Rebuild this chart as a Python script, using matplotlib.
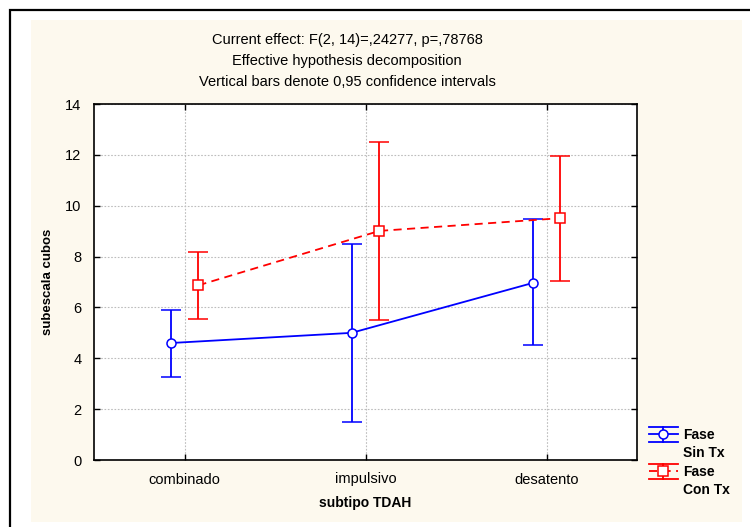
"""Means with 0,95 CI for 'subescala cubos' by subtipo TDAH and fase (Statistica-style plot)."""
import matplotlib
matplotlib.use("Agg")
import matplotlib.pyplot as plt
import numpy as np
from matplotlib.lines import Line2D
from matplotlib.patches import Rectangle

plt.rcParams["font.family"] = ["Liberation Sans", "DejaVu Sans"]

categories = ["combinado", "impulsivo", "desatento"]

sin_mean = [4.60, 5.00, 6.96]
sin_low = [3.26, 1.49, 4.52]
sin_high = [5.90, 8.49, 9.48]

con_mean = [6.87, 9.01, 9.51]
con_low = [5.54, 5.50, 7.04]
con_high = [8.18, 12.52, 11.95]

legend_labels = [("Fase", "Sin Tx"), ("Fase", "Con Tx")]

title_lines = ["Current effect: F(2, 14)=,24277, p=,78768",
               "Effective hypothesis decomposition",
               "Vertical bars denote 0,95 confidence intervals"]

W, H = 750, 527
BLUE, RED = "#0000ff", "#ff0000"
fig = plt.figure(figsize=(W / 100, H / 100), dpi=100, facecolor="white")


def fx(px):
    return px / W


def fy(py):
    return 1 - py / H


# cream panel + black outer frame, behind the axes
fig.patches.append(Rectangle((fx(31), fy(522)), fx(742 - 31), (522 - 20) / H,
                             transform=fig.transFigure, facecolor="#fdf9ee",
                             edgecolor="none", zorder=-2))
fig.patches.append(Rectangle((fx(10), -0.05), 1.2, fy(10) + 0.05,
                             transform=fig.transFigure, facecolor="none",
                             edgecolor="black", lw=1.6, zorder=-1))

ax = fig.add_axes([fx(94), fy(460), fx(637 - 94), (460 - 104) / H])
ax.set_facecolor("white")

x = np.arange(len(categories))
off = 0.077
DASH = (0, (4.5, 3))


def draw(xpos, mean, low, high, color, marker, ls):
    mean = np.asarray(mean)
    yerr = [mean - np.asarray(low), np.asarray(high) - mean]
    return ax.errorbar(xpos, mean, yerr=yerr, color=color, ecolor=color, lw=1.3,
                       elinewidth=1.3, capsize=7, capthick=1.3, ls=ls,
                       marker=marker, markersize=6.5, mfc="white", mec=color,
                       mew=1.1, zorder=3)


draw(x - off, sin_mean, sin_low, sin_high, BLUE, "o", "-")
draw(x + off, con_mean, con_low, con_high, RED, "s", DASH)

ax.set_xlim(-0.5, len(categories) - 0.5)
ax.set_ylim(0, 14)
ax.set_yticks(np.arange(0, 15, 2))
ax.set_xticks(x)
ax.set_xticklabels(categories)
ax.grid(True, ls=(0, (1.5, 1.5)), color="#bdbdbd", lw=0.8)
ax.set_axisbelow(True)
ax.tick_params(direction="in", top=True, right=True, length=4, width=1,
               labelsize=10.5)
ax.tick_params(axis="y", pad=9)
ax.tick_params(axis="x", pad=9)
for s in ax.spines.values():
    s.set_linewidth(1.2)

ax.set_xlabel("subtipo TDAH", fontsize=10, fontweight="bold", labelpad=7)
ax.set_ylabel("subescala cubos", fontsize=9.5, fontweight="bold", labelpad=8)

for i, t in enumerate(title_lines):
    fig.text(fx(347), fy(40 + 21 * i), t, ha="center", va="center", fontsize=10.5)

# legend drawn by hand: errorbar-style handle next to the first label line
for (l1, l2), color, marker, ls, yc in zip(legend_labels, [BLUE, RED], ["o", "s"],
                                          ["-", DASH], [434, 471]):
    x0, x1, xm = 649, 678, 663
    fig.add_artist(Line2D([fx(x0), fx(x1)], [fy(yc), fy(yc)], color=color, lw=1.3,
                          ls=ls, transform=fig.transFigure))
    for yy in (yc - 7.5, yc + 7.5):
        fig.add_artist(Line2D([fx(x0), fx(x1)], [fy(yy), fy(yy)], color=color,
                              lw=1.3, transform=fig.transFigure))
    fig.add_artist(Line2D([fx(xm), fx(xm)], [fy(yc - 7.5), fy(yc + 7.5)],
                          color=color, lw=1.3, transform=fig.transFigure))
    fig.add_artist(Line2D([fx(xm)], [fy(yc)], marker=marker, ms=6.5, mfc="white",
                          mec=color, mew=1.1, transform=fig.transFigure))
    fig.text(fx(683), fy(yc + 1), l1, ha="left", va="center", fontsize=10,
             fontweight="bold")
    fig.text(fx(683), fy(yc + 19), l2, ha="left", va="center", fontsize=10,
             fontweight="bold")

fig.savefig("out.png", dpi=100, facecolor="white")
